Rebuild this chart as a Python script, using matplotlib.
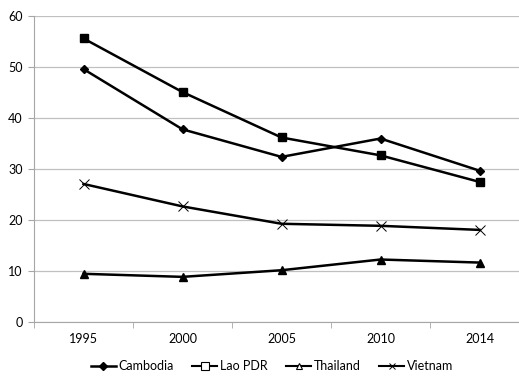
import matplotlib
matplotlib.use('Agg')
import matplotlib.pyplot as plt
from matplotlib.lines import Line2D
from matplotlib.ticker import FixedLocator, NullFormatter

plt.rcParams['font.family'] = ['Lato', 'DejaVu Sans']
plt.rcParams['font.size'] = 9

years = ['1995', '2000', '2005', '2010', '2014']
cambodia = [49.6, 37.8, 32.4, 36.0, 29.7]
lao = [55.6, 45.1, 36.2, 32.7, 27.5]
thailand = [9.5, 8.9, 10.2, 12.3, 11.7]
vietnam = [27.1, 22.7, 19.3, 18.9, 18.1]

grey = '#a6a6a6'
fig = plt.figure(figsize=(5.19, 3.77), dpi=100)
# axes spans past the right edge like the cropped original
ax = fig.add_axes([34/519, 1 - 322.3/377, 495/519, 306.3/377])

x = range(len(years))
ax.plot(x, lao, color='black', lw=1.8, marker='s', ms=6, zorder=3)
ax.plot(x, cambodia, color='black', lw=1.8, marker='D', ms=4, zorder=3)
ax.plot(x, vietnam, color='black', lw=1.8, marker='x', ms=7, mew=0.7, zorder=3)
ax.plot(x, thailand, color='black', lw=1.8, marker='^', ms=6, zorder=3)

ax.set_xlim(-0.5, 4.5)
ax.set_ylim(0, 60)
ax.set_yticks(range(0, 61, 10))
ax.set_xticks(list(x))
ax.set_xticklabels(years)
ax.xaxis.set_minor_locator(FixedLocator([i + 0.5 for i in range(-1, 5)]))
ax.xaxis.set_minor_formatter(NullFormatter())
ax.tick_params(axis='x', which='major', length=0, pad=8)
ax.tick_params(axis='x', which='minor', length=4, color=grey)
ax.tick_params(axis='y', length=4, color=grey, pad=4)
ax.grid(axis='y', color='#c0c0c0', lw=0.9)
ax.set_axisbelow(True)
for s in ['top', 'right']:
    ax.spines[s].set_visible(False)
for s in ['left', 'bottom']:
    ax.spines[s].set_color(grey)

handles = [
    Line2D([], [], color='black', lw=1.8, marker='D', ms=4),
    Line2D([], [], color='black', lw=1.5, marker='s', ms=6, mfc='white', mew=0.8),
    Line2D([], [], color='black', lw=1.5, marker='^', ms=4, mfc='white', mew=0.8),
    Line2D([], [], color='black', lw=1.5, marker='x', ms=5, mew=0.7),
]
fig.legend(handles, ['Cambodia', 'Lao PDR', 'Thailand', 'Vietnam'],
           loc='center', bbox_to_anchor=(272/519, 1 - 366/377), ncol=4,
           frameon=False, handlelength=2.0, handletextpad=0.2, columnspacing=1.5)

plt.savefig('out.png', dpi=100)
